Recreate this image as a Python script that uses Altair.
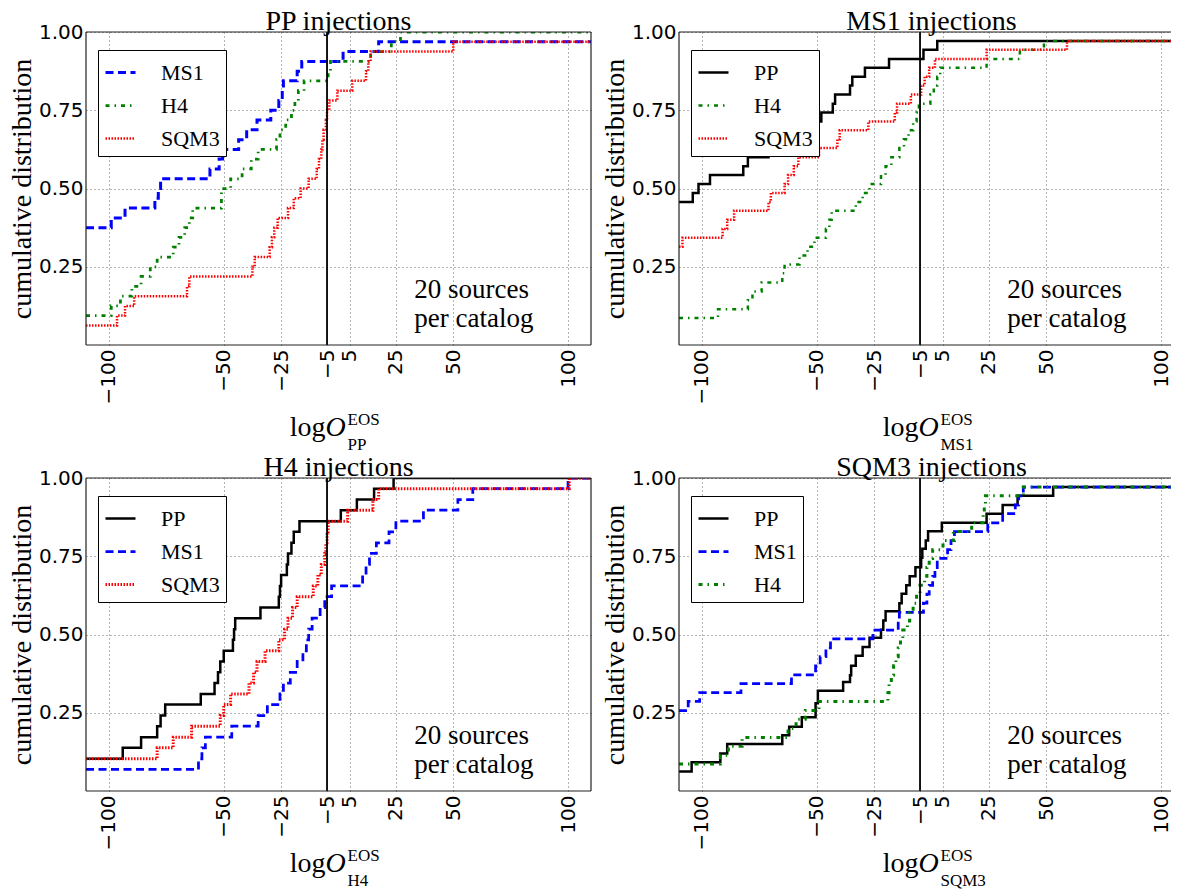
import altair as alt
import pandas as pd

SERIF = "Liberation Serif"
SANS = "DejaVu Sans"

X_TICKS = [-100, -50, -25, -5, 5, 25, 50, 100]
Y_TICKS = [0.25, 0.5, 0.75, 1.0]
THRESHOLD = [-5]
NOTE_LINES = ["20 sources", "per catalog"]
NOTE_X = [33, 33]
NOTE_Y = [0.15, 0.057]

# ---------------- PP injections ----------------
ppinj_ms1_x = [-110, -99, -93, -80, -78.5, -77.5, -56, -52, -50.5, -43.5, -40, -35.5, -29.5, -26, -24.5, -24, -18, -16, 2, 17.5, 110]
ppinj_ms1_y = [0.375, 0.406, 0.4375, 0.469, 0.5, 0.531, 0.5625, 0.594, 0.625, 0.656, 0.6875, 0.719, 0.75, 0.781, 0.8125, 0.844, 0.875, 0.906, 0.9375, 0.969, 0.969]
ppinj_h4_x = [-110, -99, -95, -90, -86, -82, -79, -72, -69.5, -67, -65, -63.5, -51, -47, -42, -38, -35, -27, -25.5, -23, -20.5, -19, -17.5, -15, -4.5, -3.5, 14, 23, 27, 110]
ppinj_h4_y = [0.094, 0.125, 0.156, 0.1875, 0.219, 0.25, 0.281, 0.3125, 0.344, 0.375, 0.406, 0.4375, 0.5, 0.531, 0.5625, 0.594, 0.625, 0.656, 0.6875, 0.719, 0.75, 0.781, 0.8125, 0.844, 0.875, 0.906, 0.9375, 0.969, 1.0, 1.0]
ppinj_sqm3_x = [-110, -96.5, -93, -89, -66, -65, -37.5, -36.5, -30, -29, -28, -26.5, -22, -19.5, -16.5, -13, -9.5, -8.5, -7.5, -7, -6.5, -5.5, -5, -4, -0.5, 6, 12, 13, 14, 50, 110]
ppinj_sqm3_y = [0.0625, 0.094, 0.125, 0.156, 0.1875, 0.219, 0.25, 0.281, 0.3125, 0.344, 0.375, 0.406, 0.4375, 0.469, 0.5, 0.531, 0.5625, 0.594, 0.625, 0.656, 0.6875, 0.719, 0.75, 0.781, 0.8125, 0.844, 0.875, 0.906, 0.9375, 0.969, 0.969]

# ---------------- MS1 injections ----------------
ms1inj_pp_x = [-110, -104, -101.5, -96.5, -82, -80, -71, -62, -57, -52, -48, -43, -42, -35.5, -34.5, -29, -18.5, -3.5, 2.5, 110]
ms1inj_pp_y = [0.457, 0.486, 0.514, 0.543, 0.571, 0.6, 0.629, 0.657, 0.686, 0.714, 0.743, 0.771, 0.8, 0.829, 0.857, 0.886, 0.914, 0.943, 0.971, 0.971]
ms1inj_h4_x = [-110, -93, -80, -78, -74, -65, -64, -57.5, -54, -51, -46, -44.5, -43.5, -33, -30, -27, -22, -20, -17.5, -14, -12, -10, -8, -6.5, -5.5, -0.5, 1, 2.5, 3.8, 24, 38.5, 49, 110]
ms1inj_h4_y = [0.086, 0.114, 0.143, 0.171, 0.2, 0.229, 0.257, 0.286, 0.314, 0.343, 0.371, 0.4, 0.429, 0.457, 0.486, 0.514, 0.543, 0.571, 0.6, 0.629, 0.657, 0.686, 0.714, 0.743, 0.771, 0.8, 0.829, 0.857, 0.886, 0.914, 0.943, 0.971, 0.971]
ms1inj_sqm3_x = [-110, -108.5, -91, -89, -86, -71, -70, -64, -62.5, -60, -58, -49, -41, -40, -27.5, -16, -15, -9, -4.5, -3, -1, 1.5, 24, 59, 110]
ms1inj_sqm3_y = [0.314, 0.343, 0.371, 0.4, 0.429, 0.457, 0.486, 0.514, 0.543, 0.571, 0.6, 0.629, 0.657, 0.686, 0.714, 0.743, 0.771, 0.8, 0.829, 0.857, 0.886, 0.914, 0.943, 0.971, 0.971]

# ---------------- H4 injections ----------------
h4inj_pp_x = [-110, -94, -86, -79, -77.5, -75.5, -60, -54, -52.5, -51.5, -50, -46, -45.5, -45, -34, -26, -25.5, -25, -22.5, -22, -20.5, -19.5, -17, 1, 8, 15.5, 24, 110]
h4inj_pp_y = [0.103, 0.138, 0.172, 0.207, 0.241, 0.276, 0.31, 0.345, 0.379, 0.414, 0.448, 0.483, 0.517, 0.552, 0.586, 0.621, 0.655, 0.69, 0.724, 0.759, 0.793, 0.828, 0.862, 0.897, 0.931, 0.966, 1.0, 1.0]
h4inj_ms1_x = [-110, -61, -59.5, -58, -46.5, -35, -31, -25.5, -24, -21, -18, -15.5, -14, -13, -11.5, -8, -6, -3, 10.5, 12, 13.5, 16.5, 22, 25, 37, 52, 58.5, 100, 110]
h4inj_ms1_y = [0.069, 0.103, 0.138, 0.172, 0.207, 0.241, 0.276, 0.31, 0.345, 0.379, 0.414, 0.448, 0.483, 0.517, 0.552, 0.586, 0.621, 0.655, 0.69, 0.724, 0.759, 0.793, 0.828, 0.862, 0.897, 0.931, 0.966, 1.0, 1.0]
h4inj_sqm3_x = [-110, -79, -72, -64, -51.5, -50, -47, -39, -37, -35.5, -32, -26, -23.5, -22, -20, -18, -11, -9, -7.5, -6, -5.5, -5, -4.5, 4, 15, 17.5, 100.5, 110]
h4inj_sqm3_y = [0.103, 0.138, 0.172, 0.207, 0.241, 0.276, 0.31, 0.345, 0.379, 0.414, 0.448, 0.483, 0.517, 0.552, 0.586, 0.621, 0.655, 0.69, 0.724, 0.759, 0.793, 0.828, 0.862, 0.897, 0.931, 0.966, 1.0, 1.0]

# ---------------- SQM3 injections ----------------
sqm3inj_pp_x = [-110, -104.5, -92, -89, -65, -62, -56.5, -50.5, -49.5, -38.5, -35.5, -35, -33, -30, -27, -22, -21, -20, -14, -13, -11, -9.5, -7, -4.5, -4, -2.5, -1.5, 4.5, 24, 31, 37.5, 53, 110]
sqm3inj_pp_y = [0.062, 0.092, 0.12, 0.15, 0.178, 0.205, 0.236, 0.28, 0.32, 0.348, 0.37, 0.4, 0.432, 0.46, 0.49, 0.515, 0.545, 0.574, 0.6, 0.63, 0.657, 0.686, 0.715, 0.745, 0.774, 0.8, 0.83, 0.857, 0.886, 0.914, 0.943, 0.971, 0.971]
sqm3inj_ms1_x = [-110, -106, -101, -83, -61, -50.5, -48.5, -46, -44, -25.5, -14.5, -14, -3.5, -2, -1, 0.5, 1.5, 2.5, 7, 8.5, 10, 24.5, 31, 36.5, 38, 40, 110]
sqm3inj_ms1_y = [0.257, 0.286, 0.314, 0.343, 0.371, 0.4, 0.429, 0.457, 0.486, 0.514, 0.543, 0.571, 0.6, 0.629, 0.657, 0.686, 0.714, 0.743, 0.771, 0.8, 0.829, 0.857, 0.886, 0.914, 0.943, 0.971, 0.971]
sqm3inj_h4_x = [-110, -92, -88.5, -82.5, -62.5, -59, -55, -49, -19, -18.5, -17.5, -16.5, -15.5, -14.5, -13.5, -12.5, -10.5, -9.5, -8, -6.5, -5, -3, -2, -1, 0.5, 5, 9.5, 17.5, 22.5, 23, 23.5, 40, 110]
sqm3inj_h4_y = [0.086, 0.114, 0.143, 0.171, 0.2, 0.229, 0.257, 0.286, 0.314, 0.343, 0.371, 0.4, 0.429, 0.457, 0.486, 0.514, 0.543, 0.571, 0.6, 0.629, 0.657, 0.686, 0.714, 0.743, 0.771, 0.8, 0.829, 0.857, 0.886, 0.914, 0.943, 0.971, 0.971]

STYLE = {
    "PP": ("#000000", [1, 0], 2.5),
    "MS1": ("#0000ff", [8, 4.5], 3.0),
    "H4": ("#008000", [4, 5, 1.5, 5], 2.5),
    "SQM3": ("#ff0000", [1.5, 1.5], 2.0),
}

W_LEFT, W_RIGHT, H = 505, 492, 313
PX_PER_UNIT = W_LEFT / 220.0
X_LEFT = [-110, 110]
X_RIGHT = [-110, -110 + W_RIGHT / PX_PER_UNIT]
CENTER = 252.5
ONE = pd.DataFrame({"k": [0]})
GRID = dict(grid=True, gridColor="#000000", gridOpacity=0.6, gridDash=[1, 3], gridWidth=1)


def panel(title, sub, series, width, xdom, top_row, draw_right):
    names = [n for n, _, _ in series]
    rows = [{"series": n, "x": x, "y": y} for n, xs, ys in series for x, y in zip(xs, ys)]
    df = pd.DataFrame(rows)
    xsc = alt.Scale(domain=xdom, nice=False, zero=False)
    ysc = alt.Scale(domain=[0, 1], nice=False, zero=False)
    leg = alt.Legend(title=None, orient="none", legendX=12, legendY=18, symbolType="stroke",
                     symbolSize=900, symbolStrokeWidth=2.5, labelFont=SERIF, labelFontSize=22,
                     labelColor="black", labelOffset=24, rowPadding=5, padding=6,
                     fillColor="white", strokeColor="black", cornerRadius=0)
    xaxis = alt.Axis(values=X_TICKS, labelAngle=270, labelOverlap=False, labelFlush=False,
                     labelPadding=4, labelFont=SANS, labelFontSize=20, labelColor="black",
                     title=None, ticks=False, domain=False, **GRID)
    yaxis = alt.Axis(values=Y_TICKS, format=".2f", labelPadding=3, labelFont=SANS,
                     labelFontSize=20, labelColor="black", title="cumulative distribution",
                     titleFont=SERIF, titleFontSize=28, titleFontWeight="normal",
                     titleColor="black", titlePadding=2, ticks=False, domain=False, **GRID)
    lines = alt.Chart(df).mark_line(interpolate="step-after", clip=True).encode(
        x=alt.X("x:Q", scale=xsc, axis=xaxis),
        y=alt.Y("y:Q", scale=ysc, axis=yaxis),
        color=alt.Color("series:N", scale=alt.Scale(domain=names, range=[STYLE[n][0] for n in names]), legend=leg),
        strokeDash=alt.StrokeDash("series:N", scale=alt.Scale(domain=names, range=[STYLE[n][1] for n in names]), legend=leg),
        strokeWidth=alt.StrokeWidth("series:N", scale=alt.Scale(domain=names, range=[STYLE[n][2] for n in names]), legend=None),
    )
    vline = alt.Chart(pd.DataFrame({"x": THRESHOLD})).mark_rule(color="black", strokeWidth=1.8).encode(
        x=alt.X("x:Q", scale=xsc))
    note = alt.Chart(pd.DataFrame({"x": NOTE_X, "y": NOTE_Y, "t": NOTE_LINES})).mark_text(
        align="left", baseline="alphabetic", font=SERIF, fontSize=27, color="black").encode(
        x=alt.X("x:Q", scale=xsc), y=alt.Y("y:Q", scale=ysc), text="t:N")
    fr = dict(color="#222222", strokeWidth=1.2)
    frame = [
        alt.Chart(ONE).mark_rule(**fr).encode(x=alt.value(0), x2=alt.value(width), y=alt.value(0)),
        alt.Chart(ONE).mark_rule(**fr).encode(x=alt.value(0), x2=alt.value(width), y=alt.value(H)),
        alt.Chart(ONE).mark_rule(**fr).encode(x=alt.value(0), y=alt.value(0), y2=alt.value(H)),
    ]
    if draw_right:
        frame.append(alt.Chart(ONE).mark_rule(**fr).encode(x=alt.value(width), y=alt.value(0), y2=alt.value(H)))
    base = H + (91 if top_row else 81)
    ox = CENTER - 13
    tx = dict(baseline="alphabetic", font=SERIF, color="black")
    xt = [
        alt.Chart(ONE).mark_text(text="log", align="right", fontSize=28, **tx).encode(x=alt.value(ox), y=alt.value(base)),
        alt.Chart(ONE).mark_text(text="O", align="left", fontSize=28, fontStyle="italic", **tx).encode(x=alt.value(ox), y=alt.value(base)),
        alt.Chart(ONE).mark_text(text="EOS", align="left", fontSize=17, **tx).encode(x=alt.value(ox + 22), y=alt.value(base - 11)),
        alt.Chart(ONE).mark_text(text=sub, align="left", fontSize=17, **tx).encode(x=alt.value(ox + 22), y=alt.value(base + 14)),
    ]
    dx = (CENTER - width / 2.0)
    return alt.layer(lines, vline, note, *frame, *xt).properties(
        width=width, height=H,
        title=alt.TitleParams(text=title, font=SERIF, fontSize=28, fontWeight="normal",
                              color="black", offset=-14, anchor="middle", frame="group", dx=dx))


tl = panel("PP injections", "PP",
           [("MS1", ppinj_ms1_x, ppinj_ms1_y), ("H4", ppinj_h4_x, ppinj_h4_y), ("SQM3", ppinj_sqm3_x, ppinj_sqm3_y)],
           W_LEFT, X_LEFT, True, True)
tr = panel("MS1 injections", "MS1",
           [("PP", ms1inj_pp_x, ms1inj_pp_y), ("H4", ms1inj_h4_x, ms1inj_h4_y), ("SQM3", ms1inj_sqm3_x, ms1inj_sqm3_y)],
           W_RIGHT, X_RIGHT, True, False)
bl = panel("H4 injections", "H4",
           [("PP", h4inj_pp_x, h4inj_pp_y), ("MS1", h4inj_ms1_x, h4inj_ms1_y), ("SQM3", h4inj_sqm3_x, h4inj_sqm3_y)],
           W_LEFT, X_LEFT, False, True)
br = panel("SQM3 injections", "SQM3",
           [("PP", sqm3inj_pp_x, sqm3inj_pp_y), ("MS1", sqm3inj_ms1_x, sqm3inj_ms1_y), ("H4", sqm3inj_h4_x, sqm3inj_h4_y)],
           W_RIGHT, X_RIGHT, False, False)

chart = alt.concat(tl, tr, bl, br, columns=2, spacing={"row": 133, "column": 88},
                   bounds="flush", align="each").resolve_scale(
    x="independent", y="independent", color="independent",
    strokeDash="independent", strokeWidth="independent").resolve_legend(
    color="independent", strokeDash="independent").properties(padding=0).configure_view(stroke=None)

chart.save("out.html", embed_options={"renderer": "svg", "actions": False})
